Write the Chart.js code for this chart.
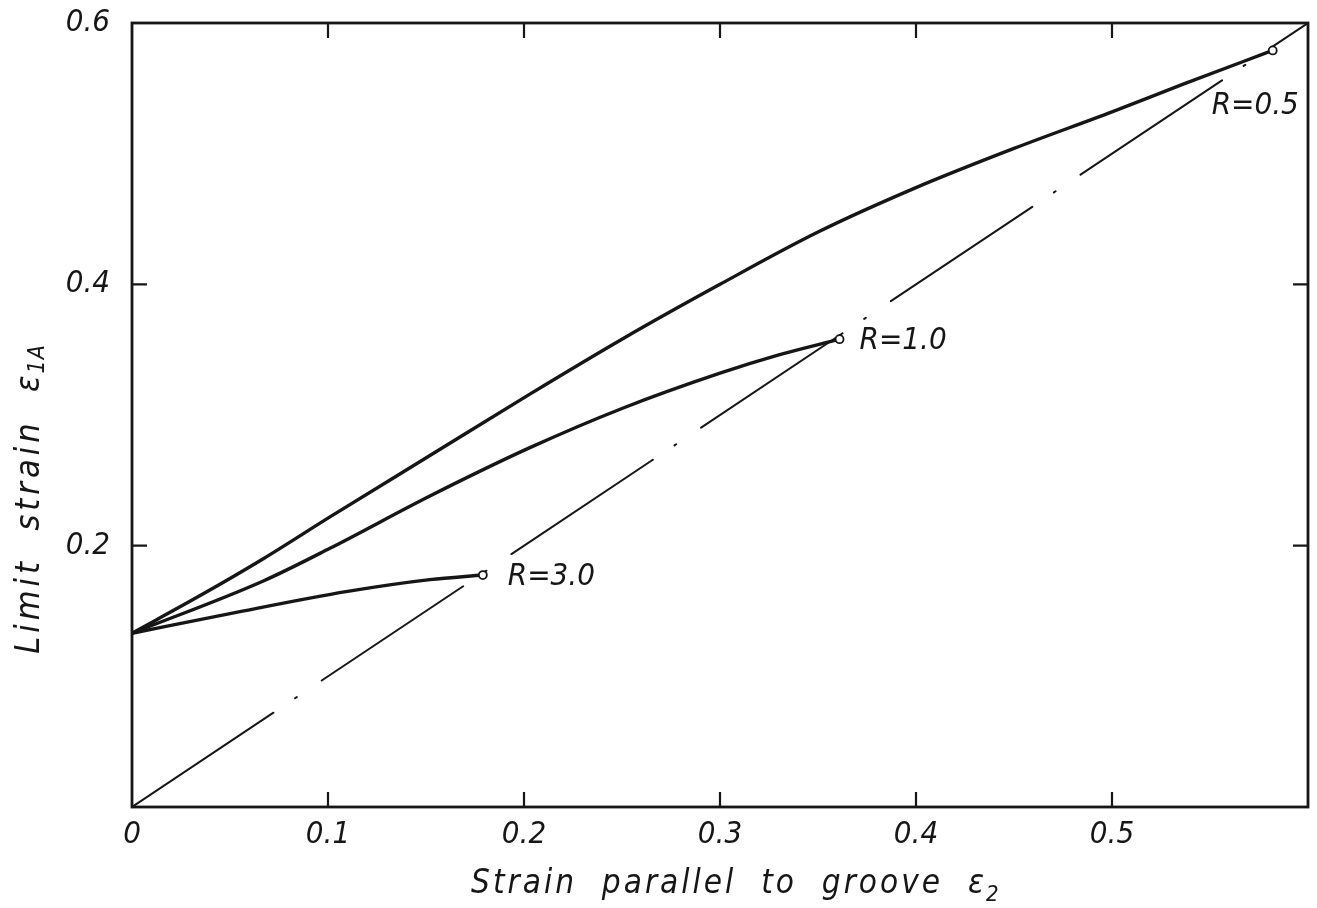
<!DOCTYPE html>
<html>
<head>
<meta charset="utf-8">
<script src="https://cdn.jsdelivr.net/npm/chart.js@4.4.1/dist/chart.umd.min.js"></script>
<style>
  html, body { margin: 0; padding: 0; background: #fff; }
  #wrap { width: 1317px; height: 908px; position: relative; }
</style>
</head>
<body>
<div id="wrap"><canvas id="limit-chart"></canvas></div>
<script>
  // limit strain curves
  var r05X = [0, 0.035, 0.067, 0.101, 0.152, 0.203, 0.25, 0.3, 0.35, 0.4, 0.45, 0.5, 0.536, 0.582];
  var r05Y = [0.133, 0.162, 0.190, 0.222, 0.269, 0.316, 0.358, 0.400, 0.440, 0.474, 0.504, 0.532, 0.553, 0.579];
  var r10X = [0, 0.067, 0.101, 0.152, 0.203, 0.25, 0.3, 0.33, 0.361];
  var r10Y = [0.133, 0.173, 0.198, 0.238, 0.275, 0.305, 0.332, 0.346, 0.358];
  var r30X = [0, 0.050, 0.110, 0.152, 0.179];
  var r30Y = [0.133, 0.148, 0.165, 0.174, 0.1775];
  // dash-dot line eps1 = eps2
  var diagX = [0, 0.6];
  var diagY = [0, 0.6];

  var curveNames = ["R=0.5", "R=1.0", "R=3.0"];
  var xMax = 0.6;
  var yMax = 0.6;

  var FONT = "'Liberation Sans Narrow', 'DejaVu Sans Condensed', 'Liberation Sans', sans-serif";
  var INK = "#161616";

  function toPoints(xs, ys) {
    return xs.map(function (x, i) { return { x: x, y: ys[i] }; });
  }

  function endMarker(n) {
    var r = [];
    for (var i = 0; i < n; i++) r.push(i == n - 1 ? 4 : 0);
    return r;
  }

  function curve(name, xs, ys) {
    return {
      label: name,
      data: toPoints(xs, ys),
      showLine: true,
      borderColor: INK,
      borderWidth: 3.4,
      cubicInterpolationMode: "monotone",
      pointRadius: endMarker(xs.length),
      pointBackgroundColor: "#fff",
      pointBorderColor: INK,
      pointBorderWidth: 1.8
    };
  }

  // frame, inward ticks, curve labels and axis titles
  var framePlugin = {
    id: "frame",
    afterDraw: function (chart) {
      var ctx = chart.ctx;
      var a = chart.chartArea;
      var xs = chart.scales.x;
      var ys = chart.scales.y;
      ctx.save();
      ctx.strokeStyle = INK;
      ctx.lineWidth = 2.8;
      ctx.strokeRect(a.left, a.top, a.right - a.left, a.bottom - a.top);

      ctx.lineWidth = 2.2;
      ctx.beginPath();
      xs.ticks.forEach(function (t) {
        if (t.value <= 1e-9 || t.value >= xMax - 1e-9) return;
        var px = xs.getPixelForValue(t.value);
        ctx.moveTo(px, a.bottom); ctx.lineTo(px, a.bottom - 15);
        ctx.moveTo(px, a.top); ctx.lineTo(px, a.top + 15);
      });
      ys.ticks.forEach(function (t) {
        if (t.value <= 1e-9 || t.value >= yMax - 1e-9) return;
        var py = ys.getPixelForValue(t.value);
        ctx.moveTo(a.left, py); ctx.lineTo(a.left + 15, py);
        ctx.moveTo(a.right, py); ctx.lineTo(a.right - 15, py);
      });
      ctx.stroke();

      // R labels next to the end of each curve
      var offsets = [[-61, 56], [20, 2], [25, 2]];
      ctx.fillStyle = INK;
      ctx.font = "italic 31px " + FONT;
      ctx.textBaseline = "middle";
      ctx.textAlign = "left";
      for (var i = 0; i < 3; i++) {
        var meta = chart.getDatasetMeta(i);
        var last = meta.data[meta.data.length - 1];
        ctx.fillText(curveNames[i], last.x + offsets[i][0], last.y + offsets[i][1]);
      }

      // x title
      ctx.font = "italic 33px " + FONT;
      ctx.letterSpacing = "3px";
      ctx.textBaseline = "alphabetic";
      var xt = "Strain  parallel  to  groove  \u03b5";
      var w1 = ctx.measureText(xt).width;
      var x0 = 735 - (w1 + 12) / 2;
      ctx.fillText(xt, x0, 893);
      ctx.font = "italic 22px " + FONT;
      ctx.letterSpacing = "0px";
      ctx.fillText("2", x0 + w1 - 1, 901);

      // y title, rotated
      ctx.translate(27, 498);
      ctx.rotate(-Math.PI / 2);
      ctx.font = "italic 34px " + FONT;
      ctx.letterSpacing = "4px";
      var yt = "Limit  strain  \u03b5";
      var w2 = ctx.measureText(yt).width;
      ctx.font = "italic 23px " + FONT;
      ctx.letterSpacing = "1px";
      var w3 = ctx.measureText("1A").width;
      var y0 = -(w2 + w3) / 2;
      ctx.font = "italic 34px " + FONT;
      ctx.letterSpacing = "4px";
      ctx.fillText(yt, y0, 12);
      ctx.font = "italic 23px " + FONT;
      ctx.letterSpacing = "1px";
      ctx.fillText("1A", y0 + w2 - 2, 17);
      ctx.restore();
    }
  };

  Chart.defaults.color = INK;
  Chart.defaults.font.family = FONT;

  var ctx1 = document.getElementById("limit-chart").getContext("2d");
  var limitChart = new Chart(ctx1, {
    type: "scatter",
    data: {
      datasets: [
        curve(curveNames[0], r05X, r05Y),
        curve(curveNames[1], r10X, r10Y),
        curve(curveNames[2], r30X, r30Y),
        {
          label: "diagonal",
          data: toPoints(diagX, diagY),
          showLine: true,
          borderColor: INK,
          borderWidth: 2,
          borderCapStyle: "round",
          borderDash: [170, 26, 2, 30],
          borderDashOffset: 0,
          pointRadius: 0
        }
      ]
    },
    options: {
      responsive: true,
      maintainAspectRatio: false,
      animation: false,
      layout: { padding: { left: 0, top: 23, right: 9, bottom: 0 } },
      plugins: {
        legend: { display: false },
        tooltip: { enabled: false }
      },
      scales: {
        x: {
          type: "linear",
          min: 0,
          max: xMax,
          grid: { display: false, drawTicks: false, tickLength: 0 },
          border: { display: false },
          ticks: {
            stepSize: 0.1,
            padding: 9,
            font: { size: 31, style: "italic" },
            maxRotation: 0,
            callback: function (v) {
              if (Math.abs(v) < 1e-9) return "0";
              if (Math.abs(v - xMax) < 1e-9) return "";
              return v.toFixed(1);
            }
          },
          afterFit: function (scale) {
            scale.height = 101;
            scale.paddingLeft = 0;
            scale.paddingRight = 0;
          }
        },
        y: {
          type: "linear",
          min: 0,
          max: yMax,
          grid: { display: false, drawTicks: false, tickLength: 0 },
          border: { display: false },
          ticks: {
            stepSize: 0.2,
            padding: 22,
            font: { size: 31, style: "italic" },
            callback: function (v) {
              if (Math.abs(v) < 1e-9) return "";
              return v.toFixed(1);
            }
          },
          afterFit: function (scale) {
            scale.width = 132;
            scale.paddingTop = 0;
            scale.paddingBottom = 0;
          }
        }
      }
    },
    plugins: [framePlugin]
  });
</script>
</body>
</html>
